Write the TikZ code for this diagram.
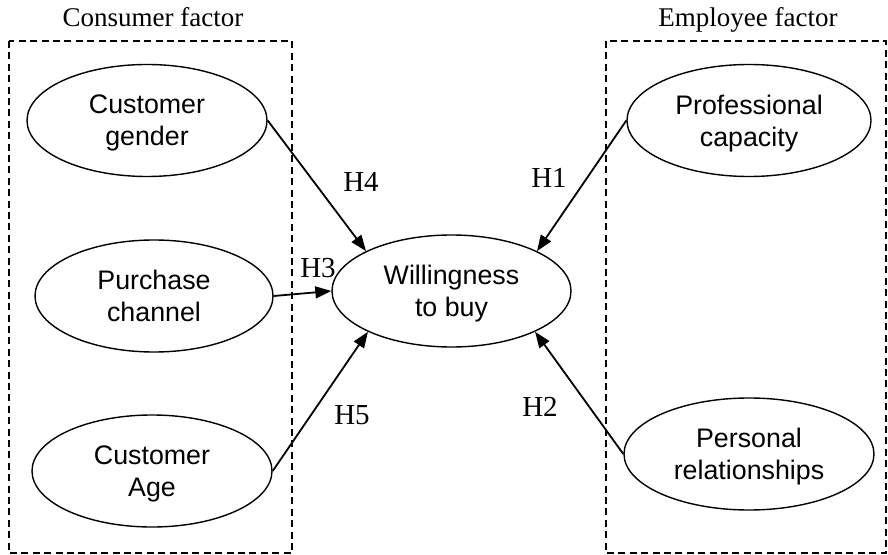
\documentclass[tikz,border=0pt]{standalone}
\usepackage{fontspec}
\setmainfont{Liberation Serif}
\newfontfamily\arialfont{Liberation Sans}
\usetikzlibrary{arrows.meta,shapes.geometric}

\begin{document}
\begin{tikzpicture}[
  x=0.5pt,y=-0.5pt,
  factor/.style={draw,ellipse,line width=0.7pt,inner sep=0pt,
                 minimum width=120pt,minimum height=56pt,align=center,
                 text depth=0pt,font=\arialfont\fontsize{13.4}{16}\selectfont},
  group/.style={draw,dash pattern=on 3.5pt off 2.2pt,line width=0.65pt},
  grouptitle/.style={anchor=base,font=\fontsize{13.5}{16}\selectfont},
  hyp/.style={anchor=base,font=\fontsize{14.5}{17}\selectfont},
  flow/.style={-{Triangle[length=8pt,width=6pt]},line width=0.9pt}
]
\useasboundingbox (0,0) rectangle (888,555);
% the two factor groups
\draw[group] (9,41) rectangle (292,553);
\draw[group] (606,41) rectangle (886,553);
\node[grouptitle] (ctitle) at (153,27) {Consumer factor};
\node[grouptitle] (etitle) at (748,27) {Employee factor};
% variables
\node[factor] (gender) at (147,120.5) {Customer\\gender};
\node[factor,minimum width=119pt] (channel) at (154,296) {Purchase\\channel};
\node[factor] (age) at (152,471) {Customer\\Age};
\node[factor,minimum width=119.5pt] (will) at (451.5,291) {Willingness\\to buy};
\node[factor,minimum width=122pt] (prof) at (749,120.5) {Professional\\capacity};
\node[factor,minimum width=125pt] (pers) at (749,454) {Personal\\relationships};
% hypotheses
\draw[flow] (gender.east) -- (will.155);
\draw[flow] (channel.east) -- (will.west);
\draw[flow] (age.east) -- (will.206);
\draw[flow] (prof.west) -- (will.25.6);
\draw[flow] (pers.west) -- (will.334);
\node[hyp] (h4) at (361,192) {H4};
\node[hyp] (h3) at (318,278) {H3};
\node[hyp] (h5) at (352,424) {H5};
\node[hyp] (h1) at (549,188) {H1};
\node[hyp] (h2) at (540,416) {H2};
\end{tikzpicture}
\end{document}
